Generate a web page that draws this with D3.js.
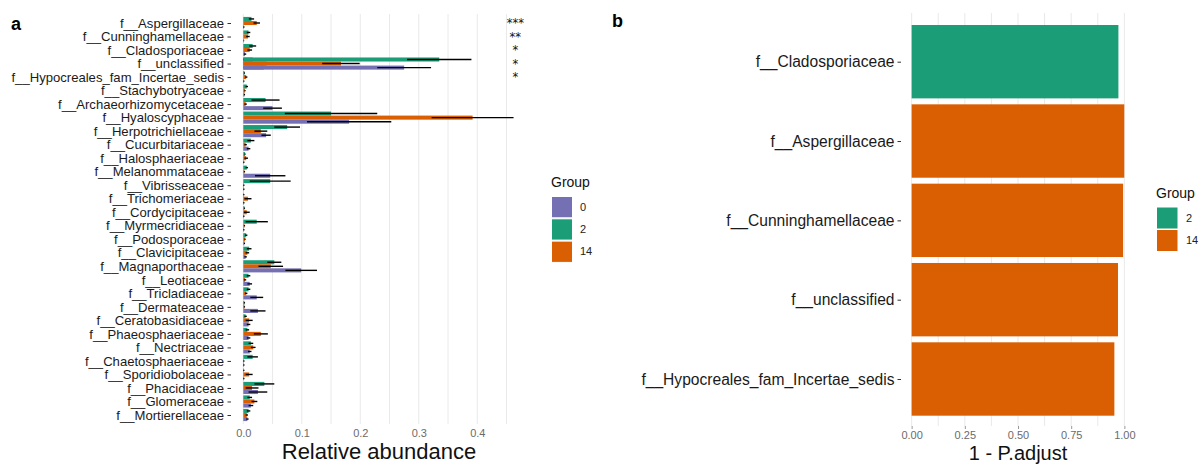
<!DOCTYPE html>
<html>
<head>
<meta charset="utf-8">
<script src="https://cdn.jsdelivr.net/npm/d3@7"></script>
<style>
  body { margin: 0; background: #fff; }
  text { font-family: "Liberation Sans", Arial, sans-serif; }
</style>
</head>
<body>
<svg width="1204" height="464"></svg>
<script>
// Panel a: relative abundance per family and group
const families = ["f__Aspergillaceae", "f__Cunninghamellaceae", "f__Cladosporiaceae", "f__unclassified",
  "f__Hypocreales_fam_Incertae_sedis", "f__Stachybotryaceae", "f__Archaeorhizomycetaceae", "f__Hyaloscyphaceae",
  "f__Herpotrichiellaceae", "f__Cucurbitariaceae", "f__Halosphaeriaceae", "f__Melanommataceae", "f__Vibrisseaceae",
  "f__Trichomeriaceae", "f__Cordycipitaceae", "f__Myrmecridiaceae", "f__Podosporaceae", "f__Clavicipitaceae",
  "f__Magnaporthaceae", "f__Leotiaceae", "f__Tricladiaceae", "f__Dermateaceae", "f__Ceratobasidiaceae",
  "f__Phaeosphaeriaceae", "f__Nectriaceae", "f__Chaetosphaeriaceae", "f__Sporidiobolaceae", "f__Phacidiaceae",
  "f__Glomeraceae", "f__Mortierellaceae"];

const groups = ["0", "2", "14"];
const dodgeOrder = ["2", "14", "0"]; // top to bottom inside a row

const mean2 = [0.014, 0.009, 0.016, 0.335, 0.002, 0.006, 0.038, 0.150, 0.075, 0.013, 0.003, 0.006, 0.046, 0.001, 0.002,
  0.023, 0.005, 0.010, 0.053, 0.009, 0.009, 0.002, 0.004, 0.007, 0.013, 0.016, 0.001, 0.036, 0.011, 0.009];
const se2 = [0.0045, 0.003, 0.006, 0.055, 0.001, 0.002, 0.024, 0.079, 0.022, 0.006, 0.001, 0.002, 0.035, 0.001, 0.001,
  0.019, 0.002, 0.004, 0.012, 0.003, 0.003, 0.001, 0.002, 0.003, 0.004, 0.009, 0.001, 0.017, 0.004, 0.003];
const mean14 = [0.023, 0.008, 0.011, 0.167, 0.005, 0.003, 0.004, 0.392, 0.030, 0.004, 0.005, 0.002, 0.001, 0.008, 0.006,
  0.002, 0.003, 0.007, 0.047, 0.003, 0.005, 0.002, 0.010, 0.030, 0.017, 0.001, 0.010, 0.015, 0.019, 0.006];
const se14 = [0.0055, 0.003, 0.004, 0.032, 0.002, 0.001, 0.002, 0.070, 0.011, 0.002, 0.003, 0.001, 0.001, 0.006, 0.005,
  0.001, 0.001, 0.003, 0.021, 0.002, 0.002, 0.001, 0.006, 0.012, 0.004, 0.001, 0.006, 0.011, 0.005, 0.002];
const mean0 = [0.001, 0.001, 0.003, 0.275, 0.001, 0.002, 0.050, 0.181, 0.039, 0.009, 0.001, 0.046, 0.001, 0.001, 0.001,
  0.001, 0.002, 0.004, 0.099, 0.011, 0.023, 0.025, 0.009, 0.009, 0.011, 0.001, 0.001, 0.025, 0.013, 0.007];
const se0 = [0.001, 0.0005, 0.002, 0.046, 0.001, 0.001, 0.016, 0.072, 0.008, 0.003, 0.001, 0.026, 0.001, 0.001, 0.001,
  0.001, 0.001, 0.002, 0.027, 0.004, 0.011, 0.013, 0.003, 0.003, 0.003, 0.001, 0.001, 0.016, 0.004, 0.002];

// a second "f__unclassified" entry that sits under the big bars
const extraFamily = "f__unclassified";
const extraMean = { "2": 0.016, "14": 0.040, "0": 0.035 };
const extraSe = { "2": 0.016, "14": 0.025, "0": 0.034 };

const stars = ["***", "**", "*", "*", "*"]; // first five families

// Panel b: 1 - P.adjust
const sigFamilies = ["f__Cladosporiaceae", "f__Aspergillaceae", "f__Cunninghamellaceae", "f__unclassified",
  "f__Hypocreales_fam_Incertae_sedis"];
const sigValues = [0.972, 0.9995, 0.994, 0.970, 0.953];
const sigGroups = ["2", "14", "14", "14", "14"];

const color = d3.scaleOrdinal()
  .domain(groups)
  .range(["#7570B3", "#1B9E77", "#D95F02"]);

const svg = d3.select("svg");
svg.append("rect").attr("width", 1204).attr("height", 464).attr("fill", "#fff");

// ---------------- panel a ----------------
const aTop = 14, aBottom = 424, aLeft = 231, aRight = 527;
const xa = d3.scaleLinear().domain([-0.021, 0.485]).range([aLeft, aRight]);
const ya = d3.scalePoint().domain(families).range([23, 415]);
const stepA = ya.step();
const sub = d3.scaleBand().domain(dodgeOrder).range([-0.45 * stepA, 0.45 * stepA]);

// vertical grid
const gridA = d3.range(0, 0.46, 0.05);
svg.append("g")
  .selectAll("line")
  .data(gridA)
  .join("line")
  .attr("x1", d => xa(d)).attr("x2", d => xa(d))
  .attr("y1", aTop).attr("y2", aBottom)
  .attr("stroke", "#e6e6e6")
  .attr("stroke-width", 0.9);

const rows = [];
families.forEach((f, i) => {
  rows.push({ fam: f, g: "2", m: mean2[i], se: se2[i] });
  rows.push({ fam: f, g: "14", m: mean14[i], se: se14[i] });
  rows.push({ fam: f, g: "0", m: mean0[i], se: se0[i] });
});
const extraRows = groups.map(g => ({ fam: extraFamily, g: g, m: extraMean[g], se: extraSe[g] }));

function drawBars(data) {
  svg.append("g")
    .selectAll("rect")
    .data(data)
    .join("rect")
    .attr("x", xa(0))
    .attr("y", d => ya(d.fam) + sub(d.g))
    .attr("width", d => xa(d.m) - xa(0))
    .attr("height", sub.bandwidth())
    .attr("fill", d => color(d.g));
}
function drawErr(data) {
  svg.append("g")
    .selectAll("line")
    .data(data)
    .join("line")
    .attr("x1", d => xa(Math.max(0, d.m - d.se)))
    .attr("x2", d => xa(d.m + d.se))
    .attr("y1", d => ya(d.fam) + sub(d.g) + sub.bandwidth() / 2)
    .attr("y2", d => ya(d.fam) + sub(d.g) + sub.bandwidth() / 2)
    .attr("stroke", "#000")
    .attr("stroke-width", 1.4);
}
drawBars(extraRows);
drawErr(extraRows);
drawBars(rows);
drawErr(rows);

// significance stars
svg.append("g")
  .selectAll("text")
  .data(stars)
  .join("text")
  .attr("x", xa(0.465))
  .attr("y", (d, i) => ya(families[i]) + 4)
  .attr("text-anchor", "middle")
  .style("font-family", "'DejaVu Sans', sans-serif")
  .style("font-size", "11.5px")
  .attr("fill", "#111")
  .text(d => d);

// axes
const yAxisA = svg.append("g")
  .attr("transform", `translate(${aLeft},0)`)
  .call(d3.axisLeft(ya).tickSize(3.5).tickPadding(3.5));
yAxisA.select(".domain").remove();
yAxisA.selectAll("line").attr("stroke", "#333");
yAxisA.selectAll("text").style("font-size", "13.1px").attr("fill", "#1a1a1a");

const xAxisA = svg.append("g")
  .attr("transform", `translate(0,${aBottom})`)
  .call(d3.axisBottom(xa).tickValues([0, 0.1, 0.2, 0.3, 0.4]).tickFormat(d3.format(".1f")).tickSize(0).tickPadding(5));
xAxisA.select(".domain").remove();
xAxisA.selectAll("text").style("font-size", "11px").attr("fill", "#6b6b6b");

svg.append("text")
  .attr("x", (aLeft + aRight) / 2)
  .attr("y", 459)
  .attr("text-anchor", "middle")
  .style("font-size", "22px")
  .attr("fill", "#111")
  .text("Relative abundance");

svg.append("text")
  .attr("x", 11).attr("y", 30)
  .style("font-size", "18px").style("font-weight", "bold")
  .text("a");

// legend a
const legA = svg.append("g").attr("transform", "translate(551,0)");
legA.append("text").attr("x", 0).attr("y", 187).style("font-size", "14px").attr("fill", "#111").text("Group");
legA.selectAll("rect")
  .data(groups)
  .join("rect")
  .attr("x", 0.5).attr("y", (d, i) => 196.5 + i * 22.3)
  .attr("width", 21).attr("height", 21.3)
  .attr("fill", d => color(d))
  .attr("stroke", "#fff").attr("stroke-width", 1);
legA.selectAll(".lab")
  .data(groups)
  .join("text")
  .attr("class", "lab")
  .attr("x", 29).attr("y", (d, i) => 207 + i * 22.3)
  .attr("dy", "0.35em")
  .style("font-size", "11px").attr("fill", "#222")
  .text(d => d);

// ---------------- panel b ----------------
const bTop = 13, bBottom = 426, bLeft = 901, bRight = 1135;
const xb = d3.scaleLinear().domain([-0.05, 1.05]).range([bLeft, bRight]);
const yb = d3.scalePoint().domain(sigFamilies).range([61.7, 379]);
const barH = yb.step() * 0.925;

const gridB = d3.range(0, 1.01, 0.125);
svg.append("g")
  .selectAll("line")
  .data(gridB)
  .join("line")
  .attr("x1", d => xb(d)).attr("x2", d => xb(d))
  .attr("y1", bTop).attr("y2", bBottom)
  .attr("stroke", "#e6e6e6")
  .attr("stroke-width", 0.9);

svg.append("g")
  .selectAll("rect")
  .data(sigFamilies)
  .join("rect")
  .attr("x", xb(0))
  .attr("y", d => yb(d) - barH / 2)
  .attr("width", (d, i) => xb(sigValues[i]) - xb(0))
  .attr("height", barH)
  .attr("fill", (d, i) => color(sigGroups[i]));

const yAxisB = svg.append("g")
  .attr("transform", `translate(${bLeft},0)`)
  .call(d3.axisLeft(yb).tickSize(3.5).tickPadding(3));
yAxisB.select(".domain").remove();
yAxisB.selectAll("line").attr("stroke", "#333");
yAxisB.selectAll("text").style("font-size", "15.6px").attr("fill", "#1a1a1a");

const xAxisB = svg.append("g")
  .attr("transform", `translate(0,${bBottom})`)
  .call(d3.axisBottom(xb).tickValues([0, 0.25, 0.5, 0.75, 1]).tickFormat(d3.format(".2f")).tickSize(3).tickPadding(2));
xAxisB.select(".domain").remove();
xAxisB.selectAll("line").attr("stroke", "#999");
xAxisB.selectAll("text").style("font-size", "11px").attr("fill", "#6b6b6b");

svg.append("text")
  .attr("x", (bLeft + bRight) / 2)
  .attr("y", 459.5)
  .attr("text-anchor", "middle")
  .style("font-size", "20px")
  .attr("fill", "#111")
  .text("1 - P.adjust");

svg.append("text")
  .attr("x", 612).attr("y", 27)
  .style("font-size", "18px").style("font-weight", "bold")
  .text("b");

// legend b
const legB = svg.append("g").attr("transform", "translate(1156,0)");
legB.append("text").attr("x", 0).attr("y", 198).style("font-size", "14px").attr("fill", "#111").text("Group");
legB.selectAll("rect")
  .data(["2", "14"])
  .join("rect")
  .attr("x", 0.5).attr("y", (d, i) => 207 + i * 22.5)
  .attr("width", 21.5).attr("height", 22)
  .attr("fill", d => color(d))
  .attr("stroke", "#fff").attr("stroke-width", 1);
legB.selectAll(".lab")
  .data(["2", "14"])
  .join("text")
  .attr("class", "lab")
  .attr("x", 30).attr("y", (d, i) => 218 + i * 22.5)
  .attr("dy", "0.35em")
  .style("font-size", "11px").attr("fill", "#222")
  .text(d => d);
</script>
</body>
</html>
